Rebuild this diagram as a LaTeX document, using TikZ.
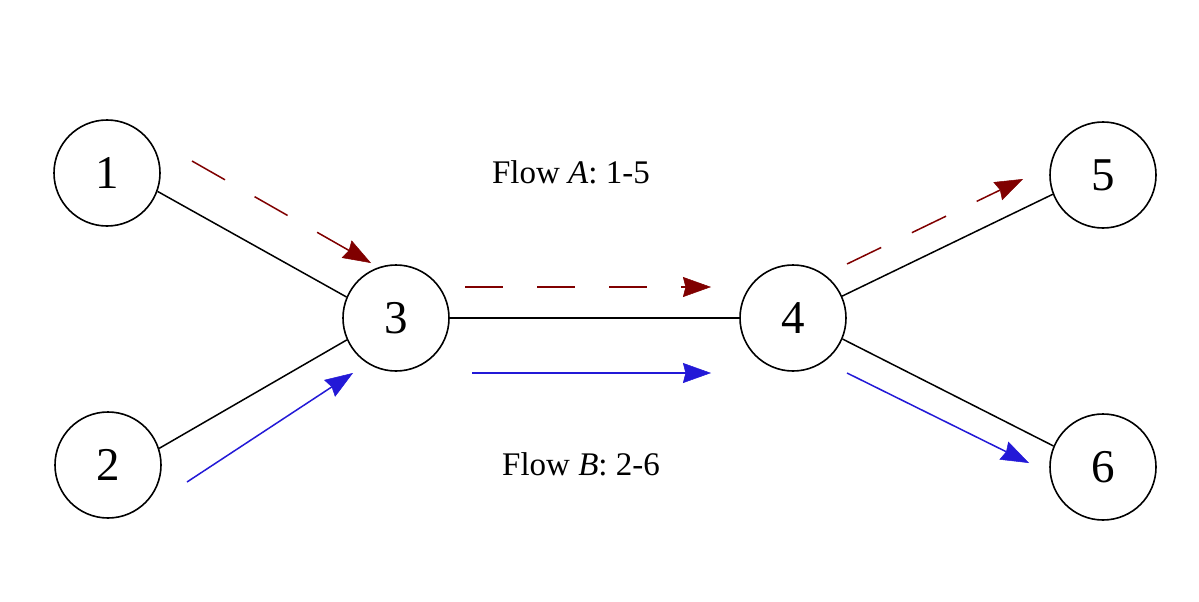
\documentclass[tikz,border=0pt]{standalone}
\usepackage{fontspec}
\setmainfont{Liberation Serif}
\usetikzlibrary{arrows.meta}
\definecolor{flowred}{RGB}{128,0,0}
\definecolor{flowblue}{RGB}{35,25,215}
\tikzset{
  netnode/.style={draw=black, line width=1.6pt, circle, minimum size=106pt, inner sep=0pt,
    font=\fontsize{47}{50}\selectfont},
  link/.style={draw=black, line width=1.5pt},
  flowA/.style={draw=flowred, line width=1.5pt, dash pattern=on 38pt off 34pt,
    -{Stealth[length=28pt,width=20pt,inset=2.5pt,fill=flowred,line width=0.5pt]}},
  flowB/.style={draw=flowblue, line width=1.5pt,
    -{Stealth[length=28pt,width=20pt,inset=2.5pt,fill=flowblue,line width=0.5pt]}},
  label/.style={font=\fontsize{33}{38}\selectfont, inner sep=0pt}
}
\begin{document}
\begin{tikzpicture}[x=1pt,y=-1pt]
\useasboundingbox[fill=white] (0,0) rectangle (1199,602);
\node[netnode] (n1) at (107,173) {1};
\node[netnode] (n2) at (108,465) {2};
\node[netnode] (n3) at (396,318) {3};
\node[netnode] (n4) at (793,318) {4};
\node[netnode] (n5) at (1103,175) {5};
\node[netnode] (n6) at (1103,467) {6};

\draw[link] (n1.-20) -- (n3.157);
\draw[link] (n2.18) -- (n3.204);
\draw[link] (n3.0) -- (n4.180);
\draw[link] (n4.24) -- (n5.201);
\draw[link] (n4.-23) -- (n6.157);

\coordinate (a1s) at (192,161); \coordinate (a1e) at (371,263);
\coordinate (a2s) at (465,287); \coordinate (a2e) at (711,287);
\coordinate (a3s) at (847,264); \coordinate (a3e) at (1023,179);
\coordinate (b1s) at (187,482); \coordinate (b1e) at (353,373);
\coordinate (b2s) at (472,373); \coordinate (b2e) at (711,373);
\coordinate (b3s) at (847,373); \coordinate (b3e) at (1029,463);

\draw[flowA] (a1s) -- (a1e);
\draw[flowA] (a2s) -- (a2e);
\draw[flowA] (a3s) -- (a3e);
\draw[flowB] (b1s) -- (b1e);
\draw[flowB] (b2s) -- (b2e);
\draw[flowB] (b3s) -- (b3e);

\node[label, anchor=base] (tA) at (571,183) {Flow \textit{A}: 1-5};
\node[label, anchor=base] (tB) at (581,475) {Flow \textit{B}: 2-6};
\end{tikzpicture}
\end{document}
